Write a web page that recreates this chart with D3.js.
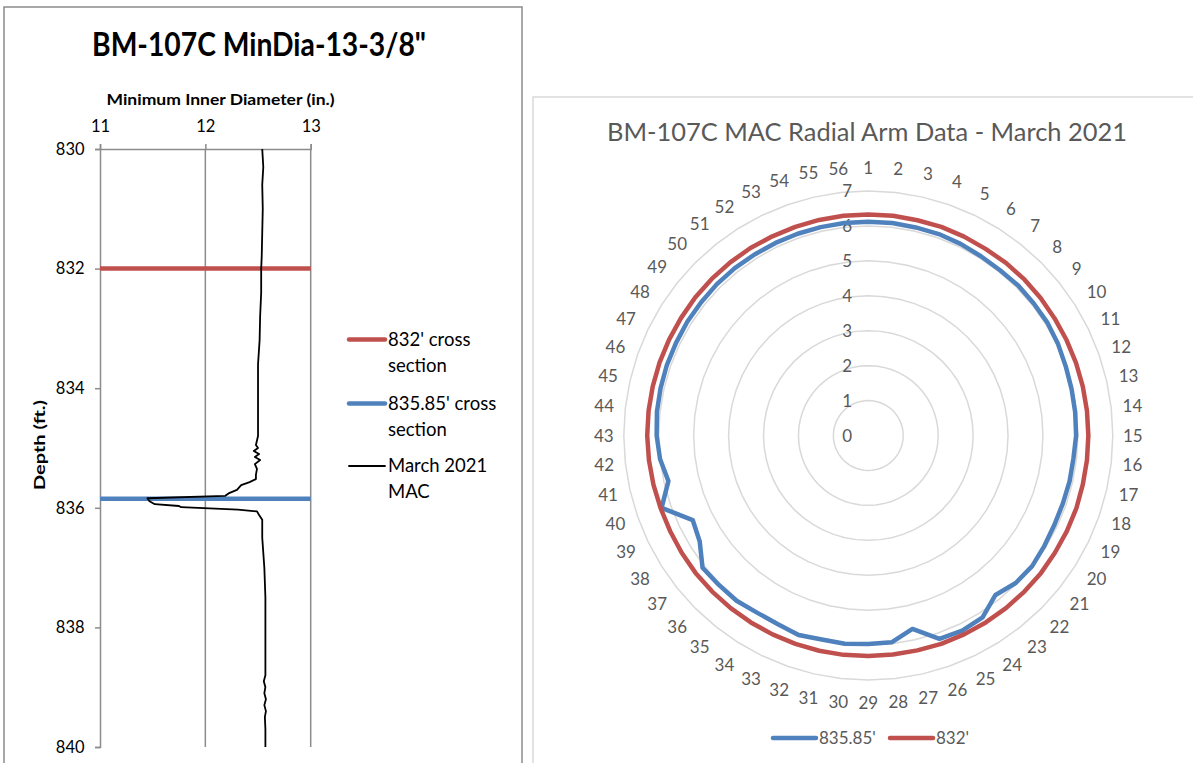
<!DOCTYPE html>
<html><head><meta charset="utf-8">
<script src="https://cdn.jsdelivr.net/npm/d3@7"></script>
<style>
html,body{margin:0;padding:0;background:#fff;}
svg{display:block;font-family:Lato,"Open Sans",sans-serif;}
</style></head><body>
<svg id="c" width="1193" height="763"></svg>
<script>
// ---------- Left chart data ----------
const depthTicks = [830, 832, 834, 836, 838, 840];
const diaTicks = [11, 12, 13];
const crossSectionDepths = [832, 835.85];
const macDepth = [830.0,830.3,830.6,831.0,831.4,831.8,832.0,832.4,832.8,833.2,833.6,834.0,834.4,834.8,834.95,835.0,835.05,835.1,835.15,835.2,835.27,835.35,835.45,835.52,835.57,835.62,835.7,835.76,835.80,835.84,835.89,835.94,835.97,835.99,836.03,836.06,836.12,836.2,836.5,837.0,837.5,838.0,838.5,838.8,838.9,839.0,839.1,839.2,839.3,839.4,839.5,839.7,840.0];
const macDia =   [12.54,12.55,12.54,12.545,12.54,12.535,12.53,12.53,12.52,12.515,12.50,12.50,12.50,12.50,12.48,12.50,12.46,12.51,12.47,12.52,12.47,12.49,12.48,12.48,12.42,12.34,12.30,12.22,12.19,11.45,11.47,11.52,11.75,11.77,12.31,12.49,12.51,12.54,12.54,12.56,12.57,12.57,12.57,12.57,12.555,12.57,12.56,12.575,12.56,12.575,12.565,12.57,12.57];
const leftLegend = [["832' cross","section"],["835.85' cross","section"],["March 2021","MAC"]];

// ---------- Right (radar) chart data ----------
const armLabels = ["1","2","3","4","5","6","7","8","9","10","11","12","13","14","15","16","17","18","19","20","21","22","23","24","25","26","27","28","29","30","31","32","33","34","35","36","37","38","39","40","41","42","43","44","45","46","47","48","49","50","51","52","53","54","55","56"];
const radialTicks = [0,1,2,3,4,5,6,7];
const arms83585 = [6.12,6.12,6.11,6.11,6.09,6.06,6.05,6.07,6.06,6.06,6.03,5.99,5.97,5.96,5.95,5.91,5.91,5.90,5.91,5.95,6.00,5.97,5.84,6.15,6.20,6.17,5.68,5.96,5.97,6.00,5.99,6.05,5.99,5.99,6.05,6.05,6.07,5.70,5.58,6.27,5.87,6.00,6.06,6.09,6.10,6.11,6.11,6.12,6.12,6.13,6.13,6.12,6.12,6.12,6.12,6.12];
const arms832 = [6.33,6.33,6.32,6.33,6.32,6.31,6.32,6.32,6.31,6.30,6.30,6.30,6.30,6.30,6.30,6.30,6.30,6.31,6.31,6.31,6.32,6.32,6.32,6.32,6.32,6.32,6.31,6.31,6.31,6.32,6.32,6.32,6.32,6.32,6.32,6.32,6.32,6.31,6.30,6.30,6.31,6.32,6.33,6.33,6.33,6.33,6.33,6.33,6.34,6.34,6.34,6.34,6.33,6.33,6.33,6.33];
const radarSeries = [{name:"835.85'", values: arms83585, color:"#4f81bd"},{name:"832'", values: arms832, color:"#c0504d"}];

const svg = d3.select("#c");
const RED = "#c0504d", BLUE = "#4f81bd";

// ===== Left panel =====
svg.append("rect").attr("x",4).attr("y",7).attr("width",518).attr("height",800)
  .attr("fill","#fff").attr("stroke","#8c8c8c").attr("stroke-width",1.5);

svg.append("text").attr("x",259).attr("y",55.5).attr("text-anchor","middle")
  .attr("font-size",32).attr("font-weight","bold").attr("fill","#000")
  .attr("textLength",334).attr("lengthAdjust","spacingAndGlyphs")
  .text('BM-107C MinDia-13-3/8"');

const x = d3.scaleLinear().domain([11,13]).range([100,310.7]);
const y = d3.scaleLinear().domain([830,840]).range([149,747]);

const gridColor = "#8c8c8c";
svg.append("g").selectAll("line").data(diaTicks.slice(1)).join("line")
  .attr("x1",d=>x(d)).attr("x2",d=>x(d)).attr("y1",y(830)).attr("y2",y(840))
  .attr("stroke",gridColor).attr("stroke-width",1.5);

const xAxis = d3.axisTop(x).tickValues(diaTicks).tickSize(5).tickFormat(d3.format("d"));
const gx = svg.append("g").attr("transform",`translate(0,${y(830)})`).call(xAxis);
gx.select(".domain").attr("stroke",gridColor).attr("stroke-width",1.5);
gx.selectAll(".tick line").attr("stroke",gridColor).attr("stroke-width",1.5);
gx.selectAll(".tick text").attr("font-size",16.5).attr("fill","#000").attr("font-family","Lato").attr("dy","-0.55em");

const yAxis = d3.axisLeft(y).tickValues(depthTicks).tickSize(5).tickFormat(d3.format("d"));
const gy = svg.append("g").attr("transform",`translate(${x(11)},0)`).call(yAxis);
gy.select(".domain").attr("stroke",gridColor).attr("stroke-width",1.5);
gy.selectAll(".tick line").attr("stroke",gridColor).attr("stroke-width",1.5);
gy.selectAll(".tick text").attr("font-size",16.5).attr("fill","#000").attr("font-family","Lato").attr("dx","-0.45em");

svg.append("text").attr("x",220.5).attr("y",105).attr("text-anchor","middle")
  .attr("font-size",15.5).attr("font-weight","bold").attr("textLength",228).attr("lengthAdjust","spacingAndGlyphs")
  .text("Minimum Inner Diameter (in.)");
svg.append("text").attr("transform","translate(45,445) rotate(-90)").attr("text-anchor","middle")
  .attr("font-size",15.5).attr("font-weight","bold").attr("textLength",90).attr("lengthAdjust","spacingAndGlyphs")
  .text("Depth (ft.)");

svg.append("g").selectAll("line").data(crossSectionDepths).join("line")
  .attr("x1",x(11)).attr("x2",x(13)).attr("y1",d=>y(d)).attr("y2",d=>y(d))
  .attr("stroke",(d,i)=>i===0?RED:BLUE).attr("stroke-width",4.5);

const macPts = macDepth.map((d,i)=>[macDia[i], d]);
svg.append("path").datum(macPts)
  .attr("d", d3.line().x(d=>x(d[0])).y(d=>y(d[1])))
  .attr("fill","none").attr("stroke","#000").attr("stroke-width",1.8).attr("stroke-linejoin","round");

const legY = [339.5, 403.5, 466];
const legColors = [RED, BLUE, "#000"];
const legW = [4.5, 4.5, 1.8];
const lg = svg.append("g");
leftLegend.forEach((lines,i)=>{
  lg.append("line").attr("x1",349).attr("x2",385).attr("y1",legY[i]).attr("y2",legY[i])
    .attr("stroke",legColors[i]).attr("stroke-width",legW[i]).attr("stroke-linecap","round");
  lines.forEach((t,j)=>{
    lg.append("text").attr("x",388).attr("y",legY[i]+6+j*26).attr("font-size",18.5).attr("fill","#000").text(t);
  });
});

// ===== Right panel =====
svg.append("rect").attr("x",533).attr("y",97).attr("width",700).attr("height",700)
  .attr("fill","#fff").attr("stroke","#d9d9d9").attr("stroke-width",1.5);

svg.append("text").attr("x",867).attr("y",141).attr("text-anchor","middle")
  .attr("font-size",25).attr("fill","#595959").attr("textLength",520).attr("lengthAdjust","spacingAndGlyphs")
  .text("BM-107C MAC Radial Arm Data - March 2021");

const cx = 868.3, cy = 435.5;
const r = d3.scaleLinear().domain([0,7]).range([0,244.5]);
const N = armLabels.length;
const ang = d3.scaleLinear().domain([0,N]).range([0,2*Math.PI]);
const rg = svg.append("g").attr("transform",`translate(${cx},${cy})`);

const radial = d3.lineRadial().angle((d,i)=>ang(i)).radius(d=>r(d)).curve(d3.curveLinearClosed);
rg.append("g").selectAll("path").data(radialTicks.slice(1)).join("path")
  .attr("d", t => radial(armLabels.map(()=>t)))
  .attr("fill","none").attr("stroke","#d9d9d9").attr("stroke-width",1.5);

rg.append("g").selectAll("text").data(radialTicks).join("text")
  .attr("x",-21).attr("y",d=>-r(d)).attr("dy","0.36em").attr("text-anchor","middle")
  .attr("font-size",17).attr("fill","#595959").text(d=>d);

radarSeries.forEach(s=>{
  rg.append("path").attr("d", radial(s.values))
    .attr("fill","none").attr("stroke",s.color).attr("stroke-width",4.5).attr("stroke-linejoin","round");
});

rg.append("g").selectAll("text").data(armLabels).join("text")
  .attr("font-size",17).attr("fill","#595959").attr("text-anchor","middle").attr("dy","0.36em")
  .each(function(d,i){
    const a = ang(i);
    const w = d.length*9;
    const rr = r(7) + 11 + Math.abs(Math.sin(a))*w/2 + Math.abs(Math.cos(a))*12;
    d3.select(this).attr("x", rr*Math.sin(a)).attr("y", -rr*Math.cos(a)).text(d);
  });

const bl = svg.append("g");
const blX = [773, 890];
radarSeries.forEach((s,i)=>{
  bl.append("line").attr("x1",blX[i]).attr("x2",blX[i]+43).attr("y1",738).attr("y2",738)
    .attr("stroke",s.color).attr("stroke-width",4.5).attr("stroke-linecap","round");
  bl.append("text").attr("x",blX[i]+46).attr("y",744).attr("font-size",17).attr("fill","#595959").text(s.name);
});
</script>
</body></html>
